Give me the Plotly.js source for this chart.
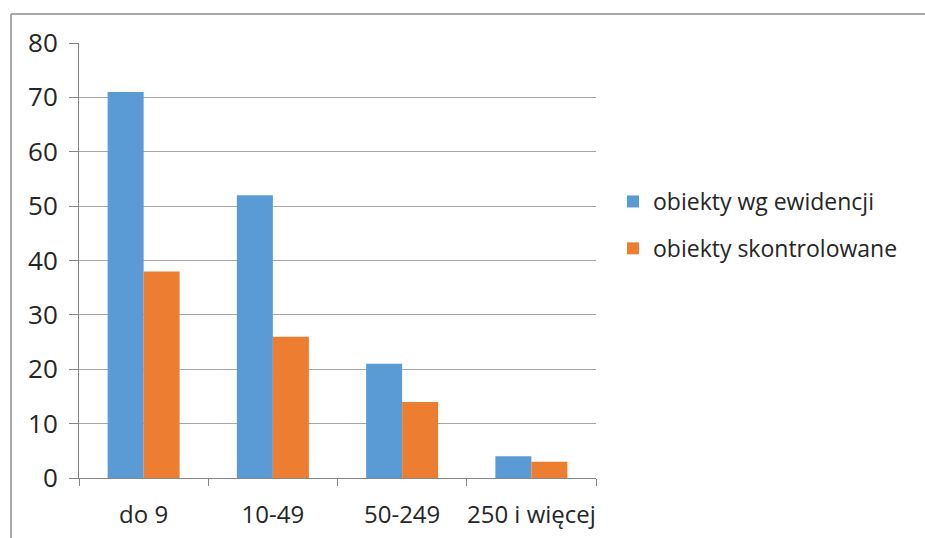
<!DOCTYPE html>
<html>
<head>
<meta charset="utf-8">
<script src="https://cdn.plot.ly/plotly-3.0.1.min.js"></script>
<style>html,body{margin:0;padding:0;background:#fff;}#chart{width:925px;height:538px;}</style>
</head>
<body>
<div id="chart"></div>
<script>
const categories = ["do 9", "10-49", "50-249", "250 i więcej"];
const seriesNames = ["obiekty wg ewidencji", "obiekty skontrolowane"];
const ewidencja = [71, 52, 21, 4];
const skontrolowane = [38, 26, 14, 3];
const yTicks = [0, 10, 20, 30, 40, 50, 60, 70, 80];

const fontFamily = "Open Sans, sans-serif";
const textColor = "#262626";
const fs = 23;

const traces = [
  {type: "bar", x: categories, y: ewidencja, name: seriesNames[0],
   marker: {color: "#5B9BD5"}, legendgroup: "a"},
  {type: "bar", x: categories, y: skontrolowane, name: seriesNames[1],
   marker: {color: "#ED7D31"}, legendgroup: "b"}
];

const L = 79, R = 329, T = 43, B = 60;
const W = 925, H = 538;
const pw = W - L - R, ph = H - T - B;

const layout = {
  width: W, height: H,
  margin: {l: L, r: R, t: T, b: B, pad: 0},
  paper_bgcolor: "#fff", plot_bgcolor: "#fff",
  font: {family: fontFamily, size: fs, color: textColor},
  barmode: "group", bargap: 0.443, bargroupgap: 0,
  xaxis: {
    type: "category", showgrid: false, showline: true, linecolor: "#868686", linewidth: 1,
    ticks: "outside", tickson: "boundaries", ticklen: 7, tickcolor: "#868686", tickangle: 0,
    ticklabelstandoff: 15, tickfont: {size: 24, color: textColor}, zeroline: false
  },
  yaxis: {
    range: [0, 80], tickvals: yTicks, showgrid: true, gridcolor: "#A6A6A6", gridwidth: 1,
    showline: true, linecolor: "#868686", ticks: "outside", ticklen: 9, tickcolor: "#868686",
    ticklabelstandoff: 6, zeroline: false, tickfont: {size: 26, color: textColor}
  },
  showlegend: true,
  legend: {
    x: (613 - L) / pw, xanchor: "left", y: 1 - (225 - T) / ph, yanchor: "middle",
    traceorder: "grouped", tracegroupgap: 14, font: {size: fs, color: textColor},
    bgcolor: "rgba(0,0,0,0)"
  },
  shapes: [
    {type: "line", xref: "paper", yref: "paper",
     x0: (11 - L) / pw, x1: (W + 5 - L) / pw, y0: 1 + (T - 14) / ph, y1: 1 + (T - 14) / ph,
     line: {color: "#8C8C8C", width: 1.5}},
    {type: "line", xref: "paper", yref: "paper",
     x0: (11 - L) / pw, x1: (11 - L) / pw, y0: 1 + (T - 14) / ph, y1: -(B + 5) / ph,
     line: {color: "#8C8C8C", width: 1.5}}
  ]
};

Plotly.newPlot("chart", traces, layout, {displayModeBar: false, staticPlot: true});
</script>
</body>
</html>
